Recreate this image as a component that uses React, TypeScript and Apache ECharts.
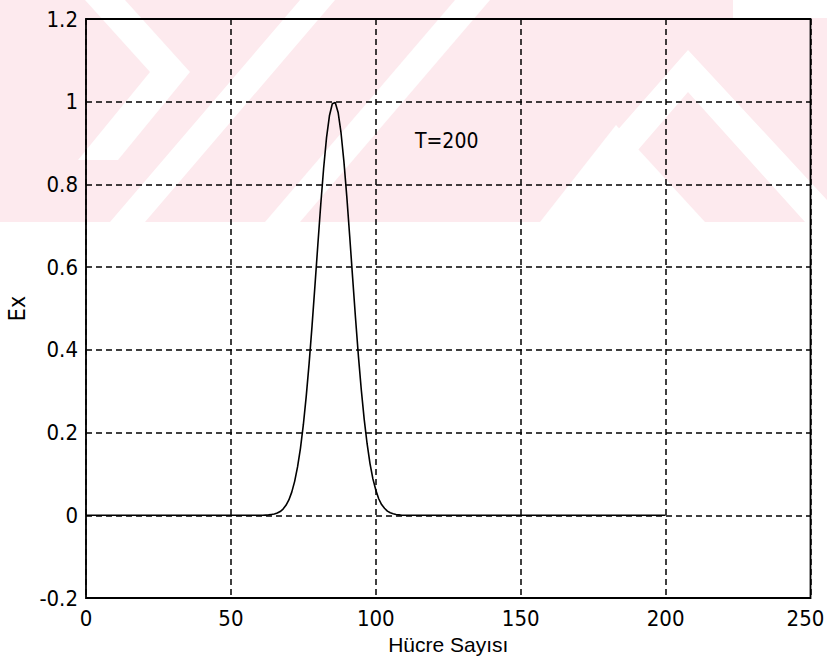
import React, { useEffect, useRef } from "react";
import * as echarts from "echarts";

// Cell index (Hücre Sayısı) and field value (Ex) at T=200
const cellIndex = [
  0, 61, 62, 63, 64, 65, 66, 67, 68, 69, 70, 71, 72, 73, 74, 75, 76, 77, 78, 79,
  80, 81, 82, 83, 84, 85, 86, 87, 88, 89, 90, 91, 92, 93, 94, 95, 96, 97, 98, 99,
  100, 101, 102, 103, 104, 105, 106, 107, 108, 109, 200,
];
const exValues = [
  0, 0, 0.0005, 0.001, 0.002, 0.003, 0.0055, 0.009, 0.015, 0.024, 0.037, 0.056,
  0.082, 0.117, 0.162, 0.219, 0.288, 0.368, 0.458, 0.555, 0.654, 0.751, 0.839,
  0.913, 0.966, 0.995, 0.998, 0.974, 0.925, 0.855, 0.77, 0.674, 0.575, 0.477,
  0.385, 0.303, 0.232, 0.173, 0.125, 0.088, 0.061, 0.04, 0.026, 0.017, 0.01,
  0.006, 0.0036, 0.002, 0.001, 0, 0,
];

const xTicks = { min: 0, max: 250, interval: 50 };
const yTicks = { min: -0.2, max: 1.2, interval: 0.2 };
const annotation = "T=200";
const xName = "Hücre Sayısı";
const yName = "Ex";

const NARROW = '"Liberation Sans Narrow", "DejaVu Sans Condensed", "Arial Narrow", "Liberation Sans", sans-serif';
const REG = '"Liberation Sans", Arial, sans-serif';

export default function App() {
  const ref = useRef<HTMLDivElement>(null);
  useEffect(() => {
    if (!ref.current) return;
    const chart = echarts.init(ref.current, null, { renderer: "svg" });
    const data = cellIndex.map((c, i) => [c, exValues[i]]);
    const pink = "#fdeaee";
    const white = "#ffffff";
    chart.setOption({
      animation: false,
      backgroundColor: "#ffffff",
      graphic: [
        { type: "rect", z: -10, shape: { x: 0, y: 0, width: 827, height: 222 }, style: { fill: pink } },
        { type: "polygon", z: -9, shape: { points: [[85, 0], [125, 0], [190, 72], [118, 160], [78, 160], [150, 72]] }, style: { fill: white } },
        { type: "polygon", z: -9, shape: { points: [[110, 222], [145, 222], [335, 0], [300, 0]] }, style: { fill: white } },
        { type: "polygon", z: -9, shape: { points: [[265, 222], [300, 222], [490, 0], [455, 0]] }, style: { fill: white } },
        { type: "polygon", z: -9, shape: { points: [[540, 222], [616, 125], [705, 222]] }, style: { fill: white } },
        { type: "polygon", z: -9, shape: { points: [[600, 150], [688, 50], [827, 200], [827, 222], [805, 222], [688, 92], [625, 165]] }, style: { fill: white } },
        { type: "rect", z: -9, shape: { x: 733, y: 0, width: 94, height: 18 }, style: { fill: white } },
        {
          type: "text",
          z: 10,
          x: 415,
          y: 141,
          style: { text: annotation, font: `21px ${NARROW}`, fill: "#000", verticalAlign: "middle", align: "left" },
        },
      ],
      grid: {
        left: 86,
        top: 19,
        right: 16.5,
        bottom: 58,
        outerBoundsMode: "none",
        containLabel: false,
        show: true,
        borderColor: "#000",
        borderWidth: 1.8,
        backgroundColor: "transparent",
      },
      xAxis: {
        type: "value",
        min: xTicks.min,
        max: xTicks.max,
        interval: xTicks.interval,
        name: xName,
        nameLocation: "middle",
        nameGap: 27,
        nameTextStyle: { fontFamily: REG, fontSize: 21, color: "#000" },
        axisLine: { show: false },
        axisTick: { show: false },
        axisLabel: {
          margin: 9,
          fontFamily: NARROW,
          fontSize: 22,
          color: "#000",
          formatter: (v: number) => (v === xTicks.max ? `{e|${v}}` : String(v)),
          rich: { e: { fontFamily: NARROW, fontSize: 22, color: "#000", padding: [0, 10, 0, 0] } },
        },
        splitLine: { show: true, lineStyle: { color: "#000", width: 1.5, type: [6, 4] } },
      },
      yAxis: {
        type: "value",
        min: yTicks.min,
        max: yTicks.max,
        interval: yTicks.interval,
        name: yName,
        nameLocation: "middle",
        nameGap: 58,
        nameRotate: 90,
        nameTextStyle: { fontFamily: NARROW, fontSize: 23, color: "#000" },
        axisLine: { show: false },
        axisTick: { show: false },
        axisLabel: {
          margin: 8,
          fontFamily: NARROW,
          fontSize: 22,
          color: "#000",
          formatter: (v: number) => String(Math.round(v * 10) / 10),
        },
        splitLine: { show: true, lineStyle: { color: "#000", width: 1.5, type: [6, 4] } },
      },
      series: [
        {
          type: "line",
          data,
          symbol: "none",
          lineStyle: { color: "#000", width: 1.6 },
          z: 5,
        },
      ],
    });
    return () => chart.dispose();
  }, []);
  return <div ref={ref} style={{ position: "absolute", left: 0, top: 0, width: 827, height: 656 }} />;
}
